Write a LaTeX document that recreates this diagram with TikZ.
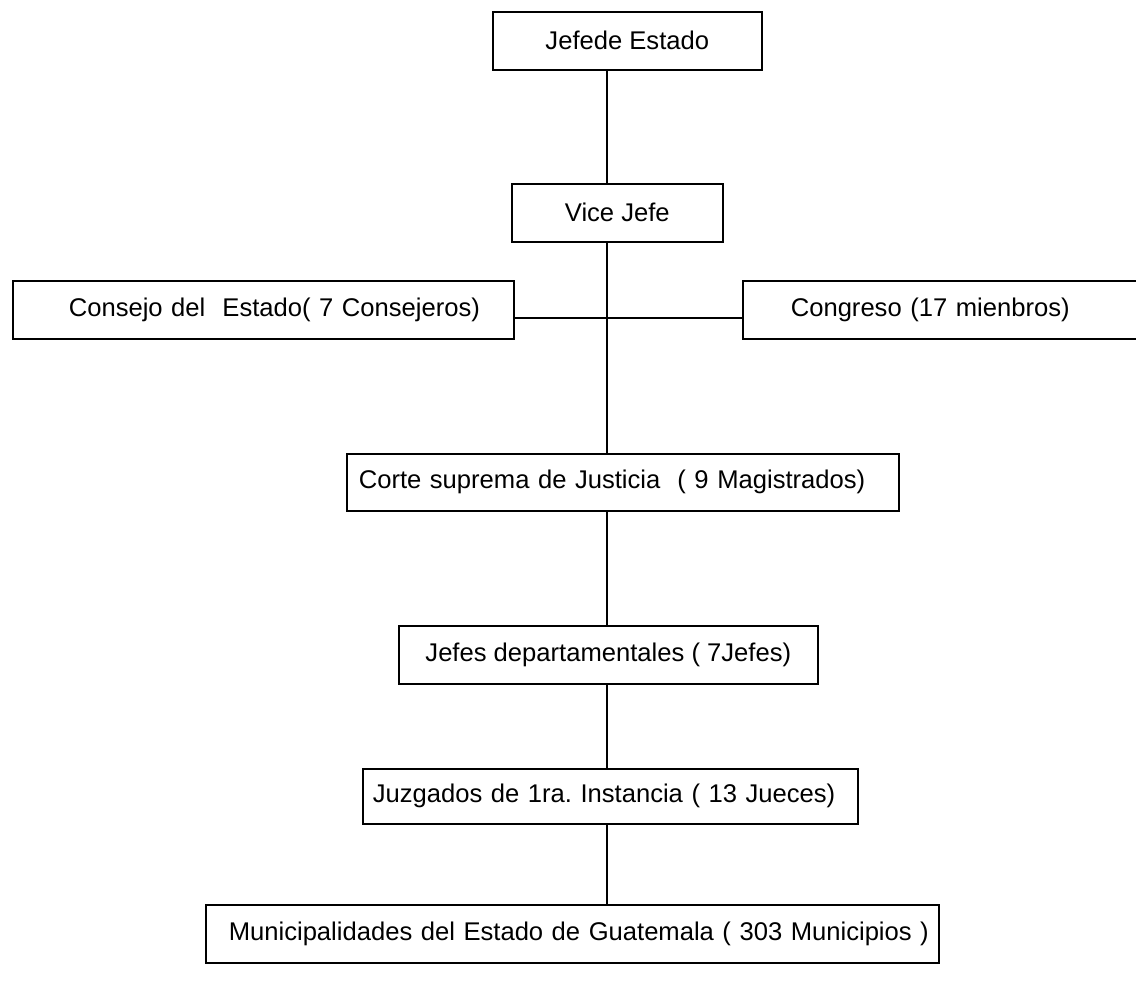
\documentclass[tikz,border=0pt]{standalone}
\usepackage{fontspec}
\setmainfont{Liberation Sans}
\frenchspacing
\begin{document}
\begin{tikzpicture}[x=1pt,y=-1pt,
  box/.style={draw=black, line width=1.6pt, anchor=north west, inner ysep=0pt,
    font=\fontsize{25.6}{30}\selectfont},
  lbox/.style={box, inner xsep=0pt, align=left},
  link/.style={draw=black, line width=1.2pt}]
\useasboundingbox (0,0) rectangle (1136,984);
\node[box, minimum width=269pt, minimum height=58pt] (jefe) at (492,11) {Jefede Estado};
\node[box, minimum width=211pt, minimum height=58pt] (vice) at (511,183) {Vice Jefe};
\node[lbox, minimum height=58pt, text width=501pt] (consejo) at (12,280)
  {\hspace*{56pt}\mbox{Consejo del\ \ Estado( 7 Consejeros)}};
\node[lbox, minimum height=58pt, text width=420pt] (congreso) at (742,280)
  {\hspace*{48pt}\mbox{Congreso (17 mienbros)}};
\node[lbox, minimum height=57pt, text width=552pt] (corte) at (346,453)
  {\hspace*{12pt}\mbox{Corte suprema de Justicia\ \ ( 9 Magistrados)}};
\node[box, minimum width=419pt, minimum height=58pt] (jefes) at (398,625) {Jefes departamentales ( 7Jefes)};
\node[lbox, minimum height=55pt, text width=495pt] (juzgados) at (362,768)
  {\hspace*{10pt}\mbox{Juzgados de 1ra. Instancia ( 13 Jueces)}};
\node[lbox, minimum height=58pt, text width=733pt] (muni) at (205,904)
  {\hspace*{23pt}\mbox{Municipalidades del Estado de Guatemala ( 303 Municipios )}};
\coordinate (spine) at (607,0);
\coordinate (hl) at (0,318);
\draw[link] (jefe.south -| spine) -- (vice.north -| spine);
\draw[link] (vice.south -| spine) -- (corte.north -| spine);
\draw[link] (consejo.east |- hl) -- (congreso.west |- hl);
\draw[link] (corte.south -| spine) -- (jefes.north -| spine);
\draw[link] (jefes.south -| spine) -- (juzgados.north -| spine);
\draw[link] (juzgados.south -| spine) -- (muni.north -| spine);
\end{tikzpicture}
\end{document}
